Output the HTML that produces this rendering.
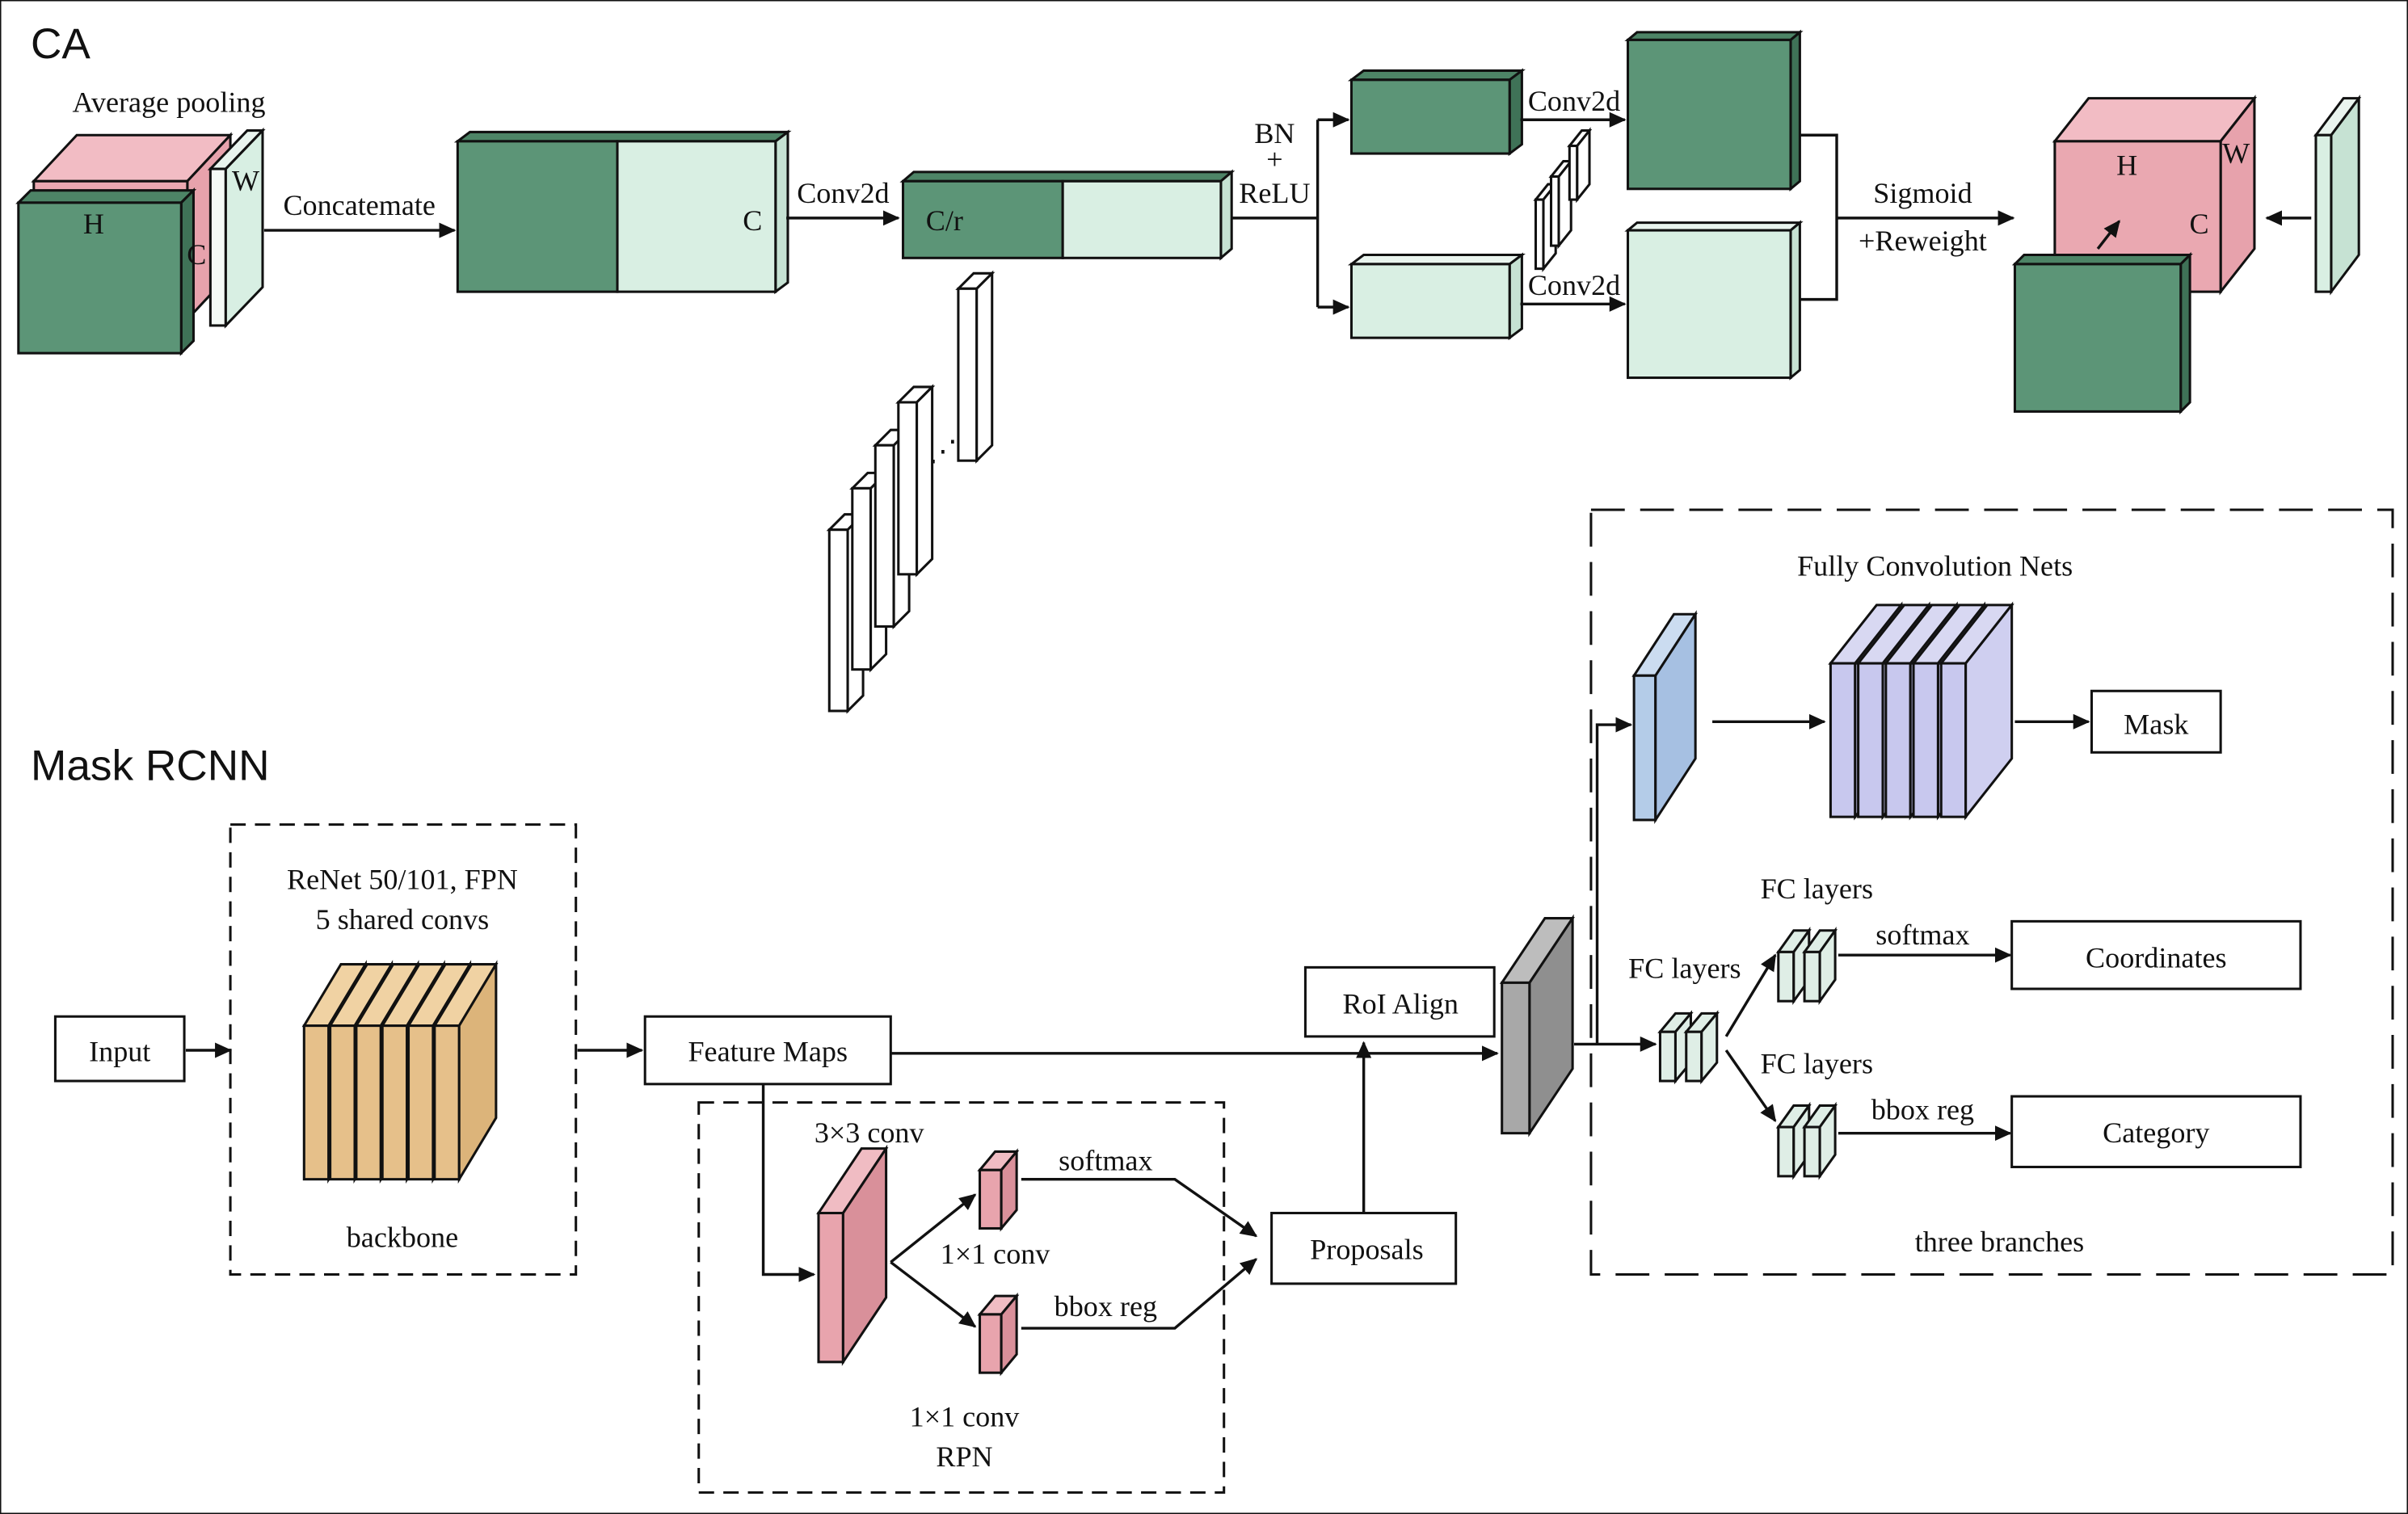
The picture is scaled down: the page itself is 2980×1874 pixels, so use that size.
<!DOCTYPE html>
<html><head><meta charset="utf-8"><style>
html,body{margin:0;padding:0;background:#fff}
svg{display:block}
text{font-family:"Liberation Serif",serif;font-size:19px;fill:#111}
.t{font-family:"Liberation Sans","DejaVu Sans",sans-serif;font-size:28px}
polygon,rect{stroke:#111;stroke-width:1.6}
line,polyline,path{stroke:#111;stroke-width:1.8;fill:none}
.ah{fill:#111;stroke:none}
</style></head><body>
<svg width="2980" height="1874" viewBox="0 0 1568 986" preserveAspectRatio="none" xmlns="http://www.w3.org/2000/svg">
<defs><marker id="a" markerWidth="11" markerHeight="10" refX="10" refY="5" orient="auto" markerUnits="userSpaceOnUse"><polygon class="ah" points="0,0 11,5 0,10"/></marker></defs>
<rect x="0" y="0" width="1568" height="986" fill="#fff" stroke="none"/>
<!-- CA -->
<text class="t" x="20" y="38">CA</text>
<text x="110" y="73" text-anchor="middle">Average pooling</text>
<polygon points="22,118 50,88 150,88 122,118" fill="#f2bcc4"/>
<polygon points="122,118 150,88 150,178 122,208" fill="#e7a2ac"/>
<rect x="22" y="118" width="100" height="90" fill="#eaa8b1"/>
<polygon points="12,132 20,124 126,124 118,132" fill="#4d8466"/>
<polygon points="118,132 126,124 126,222 118,230" fill="#3f7257"/>
<rect x="12" y="132" width="106" height="98" fill="#5c9577"/>
<text x="61" y="152" text-anchor="middle">H</text>
<text x="128" y="172" text-anchor="middle" font-size="16">C</text>
<polygon points="137,110 161,85 171,85 147,110" fill="#e9f4ee"/>
<rect x="137" y="110" width="10" height="102" fill="#f4faf6"/>
<polygon points="147,110 171,85 171,187 147,212" fill="#d8efe3"/>
<text x="160" y="124" text-anchor="middle">W</text>
<line x1="172" y1="150" x2="296" y2="150" marker-end="url(#a)"/>
<text x="234" y="140" text-anchor="middle">Concatemate</text>
<polygon points="298,92 306,86 513,86 505,92" fill="#4d8466"/>
<polygon points="505,92 513,86 513,184 505,190" fill="#c6e2d3"/>
<rect x="298" y="92" width="104" height="98" fill="#5c9577"/>
<rect x="402" y="92" width="103" height="98" fill="#d9efe3"/>
<text x="490" y="150" text-anchor="middle">C</text>
<line x1="512" y1="142" x2="585" y2="142" marker-end="url(#a)"/>
<text x="549" y="132" text-anchor="middle">Conv2d</text>
<polygon points="588,118 595,112 802,112 795,118" fill="#4d8466"/>
<polygon points="795,118 802,112 802,162 795,168" fill="#c6e2d3"/>
<rect x="588" y="118" width="104" height="50" fill="#5c9577"/>
<rect x="692" y="118" width="103" height="50" fill="#d9efe3"/>
<text x="615" y="150" text-anchor="middle">C/r</text>
<polyline points="802,142 858,142"/>
<line x1="858" y1="78" x2="858" y2="200"/>
<line x1="858" y1="78" x2="878" y2="78" marker-end="url(#a)"/>
<line x1="858" y1="200" x2="878" y2="200" marker-end="url(#a)"/>
<text x="830" y="93" text-anchor="middle">BN</text>
<text x="830" y="110" text-anchor="middle">+</text>
<text x="830" y="132" text-anchor="middle">ReLU</text>
<polygon points="880,52 888,46 991,46 983,52" fill="#4d8466"/>
<polygon points="983,52 991,46 991,94 983,100" fill="#3f7257"/>
<rect x="880" y="52" width="103" height="48" fill="#5c9577"/>
<polygon points="880,172 888,166 991,166 983,172" fill="#e9f4ee"/>
<polygon points="983,172 991,166 991,214 983,220" fill="#c6e2d3"/>
<rect x="880" y="172" width="103" height="48" fill="#d9efe3"/>
<line x1="990" y1="78" x2="1058" y2="78" marker-end="url(#a)"/>
<text x="1025" y="72" text-anchor="middle">Conv2d</text>
<line x1="990" y1="198" x2="1058" y2="198" marker-end="url(#a)"/>
<text x="1025" y="192" text-anchor="middle">Conv2d</text>
<polygon points="1000,130 1008,120 1013,120 1005,130" fill="#fff"/><rect x="1000" y="130" width="5" height="45" fill="#fff"/><polygon points="1005,130 1013,120 1013,165 1005,175" fill="#fff"/>
<polygon points="1010,115 1018,105 1023,105 1015,115" fill="#fff"/><rect x="1010" y="115" width="5" height="45" fill="#fff"/><polygon points="1015,115 1023,105 1023,150 1015,160" fill="#fff"/>
<polygon points="1022,95 1030,85 1035,85 1027,95" fill="#fff"/><rect x="1022" y="95" width="5" height="35" fill="#fff"/><polygon points="1027,95 1035,85 1035,120 1027,130" fill="#fff"/>
<polygon points="1060,26 1066,21 1172,21 1166,26" fill="#4d8466"/>
<polygon points="1166,26 1172,21 1172,118 1166,123" fill="#3f7257"/>
<rect x="1060" y="26" width="106" height="97" fill="#5c9577"/>
<polygon points="1060,150 1066,145 1172,145 1166,150" fill="#e9f4ee"/>
<polygon points="1166,150 1172,145 1172,241 1166,246" fill="#c6e2d3"/>
<rect x="1060" y="150" width="106" height="96" fill="#d9efe3"/>
<polyline points="1172,88 1196,88 1196,195 1172,195"/>
<line x1="1196" y1="142" x2="1311" y2="142" marker-end="url(#a)"/>
<text x="1252" y="132" text-anchor="middle">Sigmoid</text>
<text x="1252" y="163" text-anchor="middle">+Reweight</text>
<polygon points="1338,92 1360,64 1468,64 1446,92" fill="#f2bcc4"/>
<polygon points="1446,92 1468,64 1468,162 1446,190" fill="#e7a2ac"/>
<rect x="1338" y="92" width="108" height="98" fill="#eaa8b1"/>
<text x="1385" y="114" text-anchor="middle">H</text>
<text x="1456" y="106" text-anchor="middle">W</text>
<text x="1432" y="152" text-anchor="middle">C</text>
<polygon points="1312,172 1318,166 1426,166 1420,172" fill="#4d8466"/>
<polygon points="1420,172 1426,166 1426,262 1420,268" fill="#3f7257"/>
<rect x="1312" y="172" width="108" height="96" fill="#5c9577"/>
<line x1="1366" y1="162" x2="1380" y2="144" marker-end="url(#a)"/>
<polygon points="1508,88 1526,64 1536,64 1518,88" fill="#e9f4ee"/>
<rect x="1508" y="88" width="10" height="102" fill="#d9efe3"/>
<polygon points="1518,88 1536,64 1536,166 1518,190" fill="#c6e2d3"/>
<line x1="1505" y1="142" x2="1476" y2="142" marker-end="url(#a)"/>
<!-- column slabs -->
<g fill="#fff">
<polygon points="540,345 550,335 562,335 552,345"/><rect x="540" y="345" width="12" height="118"/><polygon points="552,345 562,335 562,453 552,463"/>
<polygon points="555,318 565,308 577,308 567,318"/><rect x="555" y="318" width="12" height="118"/><polygon points="567,318 577,308 577,426 567,436"/>
<polygon points="570,290 580,280 592,280 582,290"/><rect x="570" y="290" width="12" height="118"/><polygon points="582,290 592,280 592,398 582,408"/>
<polygon points="585,262 595,252 607,252 597,262"/><rect x="585" y="262" width="12" height="112"/><polygon points="597,262 607,252 607,364 597,374"/>
<polygon points="624,188 634,178 646,178 636,188"/><rect x="624" y="188" width="12" height="112"/><polygon points="636,188 646,178 646,290 636,300"/>
</g>
<text x="614" y="300" text-anchor="middle">⋰</text>
<!-- Mask RCNN -->
<text class="t" x="20" y="508">Mask RCNN</text>
<rect x="150" y="537" width="225" height="293" fill="none" stroke="#b58a5a" stroke-dasharray="10,6" stroke-width="1.4"/>
<text x="262" y="579" text-anchor="middle">ReNet 50/101, FPN</text>
<text x="262" y="605" text-anchor="middle">5 shared convs</text>
<text x="262" y="812" text-anchor="middle">backbone</text>
<g>
<polygon points="198,668 222,628 238,628 214,668" fill="#f0d2a3"/><rect x="198" y="668" width="16" height="100" fill="#e6c08a"/><polygon points="214,668 238,628 238,728 214,768" fill="#dcb47a"/>
<polygon points="215,668 239,628 255,628 231,668" fill="#f0d2a3"/><rect x="215" y="668" width="16" height="100" fill="#e6c08a"/><polygon points="231,668 255,628 255,728 231,768" fill="#dcb47a"/>
<polygon points="232,668 256,628 272,628 248,668" fill="#f0d2a3"/><rect x="232" y="668" width="16" height="100" fill="#e6c08a"/><polygon points="248,668 272,628 272,728 248,768" fill="#dcb47a"/>
<polygon points="249,668 273,628 289,628 265,668" fill="#f0d2a3"/><rect x="249" y="668" width="16" height="100" fill="#e6c08a"/><polygon points="265,668 289,628 289,728 265,768" fill="#dcb47a"/>
<polygon points="266,668 290,628 306,628 282,668" fill="#f0d2a3"/><rect x="266" y="668" width="16" height="100" fill="#e6c08a"/><polygon points="282,668 306,628 306,728 282,768" fill="#dcb47a"/>
<polygon points="283,668 307,628 323,628 299,668" fill="#f0d2a3"/><rect x="283" y="668" width="16" height="100" fill="#e6c08a"/><polygon points="299,668 323,628 323,728 299,768" fill="#dcb47a"/>
</g>
<rect x="36" y="662" width="84" height="42" fill="#fff"/>
<text x="78" y="691" text-anchor="middle">Input</text>
<line x1="121" y1="684" x2="150" y2="684" marker-end="url(#a)"/>
<line x1="376" y1="684" x2="418" y2="684" marker-end="url(#a)"/>
<rect x="420" y="662" width="160" height="44" fill="#fff"/>
<text x="500" y="691" text-anchor="middle">Feature Maps</text>
<line x1="580" y1="686" x2="975" y2="686" marker-end="url(#a)"/>
<rect x="455" y="718" width="342" height="254" fill="none" stroke="#777" stroke-dasharray="10,6" stroke-width="1.4"/>
<polyline points="497,706 497,830 530,830" marker-end="url(#a)"/>
<polygon points="533,790 561,748 577,748 549,790" fill="#f0bcc3"/><rect x="533" y="790" width="16" height="97" fill="#e8a4ad"/><polygon points="549,790 577,748 577,845 549,887" fill="#d9909a"/>
<text x="566" y="744" text-anchor="middle">3×3 conv</text>
<line x1="580" y1="822" x2="635" y2="778" marker-end="url(#a)"/>
<line x1="580" y1="822" x2="635" y2="864" marker-end="url(#a)"/>
<polygon points="638,762 648,750 662,750 652,762" fill="#f0bcc3"/><rect x="638" y="762" width="14" height="38" fill="#e8a4ad"/><polygon points="652,762 662,750 662,788 652,800" fill="#d9909a"/>
<polygon points="638,856 648,844 662,844 652,856" fill="#f0bcc3"/><rect x="638" y="856" width="14" height="38" fill="#e8a4ad"/><polygon points="652,856 662,844 662,882 652,894" fill="#d9909a"/>
<text x="720" y="762" text-anchor="middle">softmax</text>
<polyline points="665,768 765,768 818,805" marker-end="url(#a)"/>
<text x="720" y="857" text-anchor="middle">bbox reg</text>
<polyline points="665,865 765,865 818,820" marker-end="url(#a)"/>
<text x="648" y="823" text-anchor="middle">1×1 conv</text>
<text x="628" y="929" text-anchor="middle">1×1 conv</text>
<text x="628" y="955" text-anchor="middle">RPN</text>
<rect x="828" y="790" width="120" height="46" fill="#fff"/>
<text x="890" y="820" text-anchor="middle">Proposals</text>
<line x1="888" y1="790" x2="888" y2="679" marker-end="url(#a)"/>
<rect x="850" y="630" width="123" height="45" fill="#fff"/>
<text x="912" y="660" text-anchor="middle">RoI Align</text>
<polygon points="978,640 1006,598 1024,598 996,640" fill="#bdbdbd"/><rect x="978" y="640" width="18" height="98" fill="#a8a8a8"/><polygon points="996,640 1024,598 1024,696 996,738" fill="#8f8f8f"/>
<rect x="1036" y="332" width="522" height="498" fill="none" stroke="#111" stroke-dasharray="22,10" stroke-width="1.6"/>
<text x="1260" y="375" text-anchor="middle">Fully Convolution Nets</text>
<line x1="1025" y1="680" x2="1078" y2="680" marker-end="url(#a)"/>
<polyline points="1040,680 1040,472 1062,472" marker-end="url(#a)"/>
<polygon points="1064,440 1090,400 1104,400 1078,440" fill="#cbdcf0"/><rect x="1064" y="440" width="14" height="94" fill="#b4cce8"/><polygon points="1078,440 1104,400 1104,494 1078,534" fill="#a6c0e2"/>
<line x1="1115" y1="470" x2="1188" y2="470" marker-end="url(#a)"/>
<g>
<polygon points="1192,432 1222,394 1238,394 1208,432" fill="#d8d8f2"/><rect x="1192" y="432" width="16" height="100" fill="#c8c8ee"/><polygon points="1208,432 1238,394 1238,494 1208,532" fill="#c4c4ec"/>
<polygon points="1210,432 1240,394 1256,394 1226,432" fill="#d8d8f2"/><rect x="1210" y="432" width="16" height="100" fill="#c8c8ee"/><polygon points="1226,432 1256,394 1256,494 1226,532" fill="#c4c4ec"/>
<polygon points="1228,432 1258,394 1274,394 1244,432" fill="#d8d8f2"/><rect x="1228" y="432" width="16" height="100" fill="#c8c8ee"/><polygon points="1244,432 1274,394 1274,494 1244,532" fill="#c4c4ec"/>
<polygon points="1246,432 1276,394 1292,394 1262,432" fill="#d8d8f2"/><rect x="1246" y="432" width="16" height="100" fill="#c8c8ee"/><polygon points="1262,432 1292,394 1292,494 1262,532" fill="#c4c4ec"/>
<polygon points="1264,432 1294,394 1310,394 1280,432" fill="#d8d8f2"/><rect x="1264" y="432" width="16" height="100" fill="#c8c8ee"/><polygon points="1280,432 1310,394 1310,494 1280,532" fill="#cfcff0"/>
</g>
<line x1="1312" y1="470" x2="1360" y2="470" marker-end="url(#a)"/>
<rect x="1362" y="450" width="84" height="40" fill="#fff"/>
<text x="1404" y="478" text-anchor="middle">Mask</text>
<g fill="#dfeee6">
<polygon points="1081,672 1091,660 1101,660 1091,672"/><rect x="1081" y="672" width="10" height="32"/><polygon points="1091,672 1101,660 1101,692 1091,704"/>
<polygon points="1098,672 1108,660 1118,660 1108,672"/><rect x="1098" y="672" width="10" height="32"/><polygon points="1108,672 1118,660 1118,692 1108,704"/>
<polygon points="1158,620 1168,606 1178,606 1168,620"/><rect x="1158" y="620" width="10" height="32"/><polygon points="1168,620 1178,606 1178,638 1168,652"/>
<polygon points="1175,620 1185,606 1195,606 1185,620"/><rect x="1175" y="620" width="10" height="32"/><polygon points="1185,620 1195,606 1195,638 1185,652"/>
<polygon points="1158,734 1168,720 1178,720 1168,734"/><rect x="1158" y="734" width="10" height="32"/><polygon points="1168,734 1178,720 1178,752 1168,766"/>
<polygon points="1175,734 1185,720 1195,720 1185,734"/><rect x="1175" y="734" width="10" height="32"/><polygon points="1185,734 1195,720 1195,752 1185,766"/>
</g>
<text x="1097" y="637" text-anchor="middle">FC layers</text>
<text x="1183" y="585" text-anchor="middle">FC layers</text>
<text x="1183" y="699" text-anchor="middle">FC layers</text>
<line x1="1124" y1="675" x2="1156" y2="622" marker-end="url(#a)"/>
<line x1="1124" y1="684" x2="1156" y2="730" marker-end="url(#a)"/>
<text x="1252" y="615" text-anchor="middle">softmax</text>
<line x1="1197" y1="622" x2="1309" y2="622" marker-end="url(#a)"/>
<rect x="1310" y="600" width="188" height="44" fill="#fff"/>
<text x="1404" y="630" text-anchor="middle">Coordinates</text>
<text x="1252" y="729" text-anchor="middle">bbox reg</text>
<line x1="1197" y1="738" x2="1309" y2="738" marker-end="url(#a)"/>
<rect x="1310" y="714" width="188" height="46" fill="#fff"/>
<text x="1404" y="744" text-anchor="middle">Category</text>
<text x="1302" y="815" text-anchor="middle">three branches</text>
</svg>
</body></html>
